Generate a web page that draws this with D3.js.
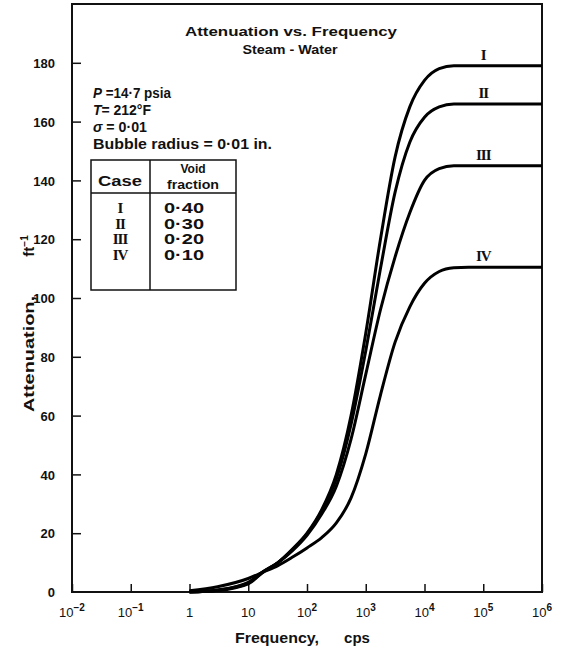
<!DOCTYPE html>
<html>
<head>
<meta charset="utf-8">
<script src="https://cdn.jsdelivr.net/npm/d3@7/dist/d3.min.js"></script>
<style>
  html, body { margin: 0; padding: 0; background: #fff; }
  svg { display: block; }
  text { font-family: "Liberation Sans", Arial, sans-serif; fill: #111; }
</style>
</head>
<body>
<svg id="chart" width="566" height="653"></svg>
<script>
// Frequency sample points (cps) shared by all four curves
const freq = [1, 3, 10, 18, 32, 56, 100, 178, 316, 562, 1000, 1780, 3160, 5620, 10000, 17800, 31600, 56200, 100000, 1000000];

// Attenuation (ft^-1) for each case
const caseI   = [0, 0.5, 2.8, 6.8, 10, 14.5, 20, 28, 40, 60, 88, 120, 148, 165, 174, 178, 179, 179, 179, 179];
const caseII  = [0, 0.6, 3.0, 6.9, 10, 14.3, 19.7, 27.5, 38.5, 57, 82, 110, 136, 153, 161.5, 165, 166, 166, 166, 166];
const caseIII = [0, 0.7, 3.3, 7.0, 10, 14, 19.3, 26.5, 36, 52, 74, 96, 114, 129, 140, 144, 145, 145, 145, 145];
const caseIV  = [0.4, 1.8, 4.6, 6.8, 9, 11.8, 15, 18.5, 23.5, 32, 47, 67, 85, 97, 105, 109, 110.3, 110.5, 110.5, 110.5];

const caseNames = ["I", "II", "III", "IV"];
const voidFractions = ["0·40", "0·30", "0·20", "0·10"];

const xTickExps = [-2, -1, 0, 1, 2, 3, 4, 5, 6];
const yTicks = [20, 40, 60, 80, 100, 120, 140, 160, 180];

const svg = d3.select("#chart");

const x = d3.scaleLog().domain([1e-2, 1e6]).range([72, 542]);
const y = d3.scaleLinear().domain([0, 200]).range([592, 4]);

// Plot frame
svg.append("rect")
  .attr("x", x.range()[0]).attr("y", y.range()[1])
  .attr("width", x.range()[1] - x.range()[0])
  .attr("height", y.range()[0] - y.range()[1])
  .attr("fill", "none").attr("stroke", "#111").attr("stroke-width", 2);

// Y ticks (inward) and labels
const yAxis = svg.append("g").attr("transform", `translate(${x.range()[0]},0)`)
  .call(d3.axisLeft(y).tickValues(yTicks).tickSizeInner(-9).tickSizeOuter(0).tickFormat(d3.format("d")));
yAxis.select(".domain").remove();
yAxis.selectAll(".tick line").attr("stroke", "#111").attr("stroke-width", 1.5);
yAxis.selectAll(".tick text")
  .attr("x", -17).attr("dy", "0.36em")
  .style("font-size", "13px").style("font-weight", "bold").style("font-family", "Liberation Sans, Arial, sans-serif").attr("fill", "#111");
svg.append("text").attr("x", x.range()[0] - 17).attr("y", y(0)).attr("dy", "0.36em")
  .attr("text-anchor", "end").style("font-size", "13px").style("font-weight", "bold").text("0");

// X ticks (inward) and labels
const xAxis = svg.append("g").attr("transform", `translate(0,${y.range()[0]})`)
  .call(d3.axisBottom(x).tickValues(xTickExps.map(e => Math.pow(10, e))).tickSizeInner(-8).tickSizeOuter(0).tickFormat(""));
xAxis.select(".domain").remove();
xAxis.selectAll(".tick line").attr("stroke", "#111").attr("stroke-width", 1.5);

const xl = svg.append("g").selectAll("text").data(xTickExps).join("text")
  .attr("x", e => x(Math.pow(10, e)))
  .attr("y", 617)
  .attr("text-anchor", "middle")
  .style("font-size", "13px");
xl.each(function(e) {
  const t = d3.select(this);
  if (e === 0) { t.text("1"); return; }
  t.append("tspan").text("10");
  if (e !== 1) {
    t.append("tspan").attr("dy", -6).style("font-size", "10px").style("font-weight", "bold")
      .text(e < 0 ? "\u2212" + (-e) : String(e));
  }
});

// Curves
const line = d3.line()
  .x(d => x(d[0]))
  .y(d => y(d[1]))
  .curve(d3.curveMonotoneX);

const series = [caseI, caseII, caseIII, caseIV];
svg.append("g").selectAll("path").data(series).join("path")
  .attr("d", s => line(freq.map((f, i) => [f, s[i]])))
  .attr("fill", "none").attr("stroke", "#000").attr("stroke-width", 3)
  .attr("stroke-linejoin", "round");

// Case labels above each plateau
svg.append("g").selectAll("text").data(series).join("text")
  .attr("x", x(1e5))
  .attr("y", s => y(s[s.length - 1]) - 6)
  .attr("text-anchor", "middle")
  .style("font-family", "Liberation Serif, serif").style("font-weight", "bold").style("font-size", "15px")
  .attr("letter-spacing", -1)
  .text((s, i) => caseNames[i]);

// Title
svg.append("text").attr("x", 291).attr("y", 36).attr("text-anchor", "middle")
  .attr("textLength", 212).attr("lengthAdjust", "spacingAndGlyphs")
  .style("font-size", "13px").style("font-weight", "bold").text("Attenuation vs. Frequency");
svg.append("text").attr("x", 290).attr("y", 54).attr("text-anchor", "middle")
  .attr("textLength", 95).attr("lengthAdjust", "spacingAndGlyphs")
  .style("font-size", "13px").style("font-weight", "bold").text("Steam - Water");

// Conditions
const cond = svg.append("g").style("font-size", "14px").style("font-weight", "bold");
const c1 = cond.append("text").attr("x", 93).attr("y", 98).attr("textLength", 78).attr("lengthAdjust", "spacingAndGlyphs");
c1.append("tspan").style("font-style", "italic").text("P");
c1.append("tspan").text(" =14·7 psia");
const c2 = cond.append("text").attr("x", 93).attr("y", 115).attr("textLength", 58).attr("lengthAdjust", "spacingAndGlyphs");
c2.append("tspan").style("font-style", "italic").text("T");
c2.append("tspan").text("= 212°F");
const c3 = cond.append("text").attr("x", 93).attr("y", 132).attr("textLength", 54).attr("lengthAdjust", "spacingAndGlyphs");
c3.append("tspan").style("font-style", "italic").text("σ");
c3.append("tspan").text(" = 0·01");
cond.append("text").attr("x", 93).attr("y", 149).attr("textLength", 179).attr("lengthAdjust", "spacingAndGlyphs")
  .text("Bubble radius = 0·01 in.");

// Case / void fraction table
const tb = svg.append("g");
tb.append("rect").attr("x", 91).attr("y", 160).attr("width", 145).attr("height", 130)
  .attr("fill", "none").attr("stroke", "#111").attr("stroke-width", 1.5);
tb.append("line").attr("x1", 91).attr("x2", 236).attr("y1", 193).attr("y2", 193)
  .attr("stroke", "#111").attr("stroke-width", 1.5);
tb.append("line").attr("x1", 150).attr("x2", 150).attr("y1", 160).attr("y2", 290)
  .attr("stroke", "#111").attr("stroke-width", 1.5);
tb.append("text").attr("x", 120).attr("y", 186).attr("text-anchor", "middle")
  .attr("textLength", 44).attr("lengthAdjust", "spacingAndGlyphs")
  .style("font-size", "14px").style("font-weight", "bold").text("Case");
tb.append("text").attr("x", 193).attr("y", 173).attr("text-anchor", "middle")
  .style("font-size", "12px").style("font-weight", "bold").text("Void");
tb.append("text").attr("x", 193).attr("y", 189).attr("text-anchor", "middle")
  .attr("textLength", 52).attr("lengthAdjust", "spacingAndGlyphs")
  .style("font-size", "12px").style("font-weight", "bold").text("fraction");
tb.selectAll(".cn").data(caseNames).join("text").attr("class", "cn")
  .attr("x", 120).attr("y", (d, i) => 213 + i * 15.5).attr("text-anchor", "middle")
  .style("font-family", "Liberation Serif, serif").style("font-weight", "bold").style("font-size", "15px")
  .attr("letter-spacing", -1).text(d => d);
tb.selectAll(".vf").data(voidFractions).join("text").attr("class", "vf")
  .attr("x", 184).attr("y", (d, i) => 213 + i * 15.5).attr("text-anchor", "middle")
  .attr("textLength", 40).attr("lengthAdjust", "spacingAndGlyphs")
  .style("font-size", "15px").style("font-weight", "bold").text(d => d);

// Axis titles
const yt = svg.append("g").attr("transform", "translate(34,0) rotate(-90)");
yt.append("text").attr("x", -354).attr("y", 0).attr("text-anchor", "middle")
  .attr("textLength", 116).attr("lengthAdjust", "spacingAndGlyphs")
  .style("font-size", "15px").style("font-weight", "bold").text("Attenuation,");
const ft = yt.append("text").attr("x", -246).attr("y", 0).attr("text-anchor", "middle")
  .style("font-size", "15px").style("font-weight", "bold");
ft.append("tspan").text("ft");
ft.append("tspan").attr("dy", -6).style("font-size", "10px").text("−1");

svg.append("text").attr("x", 277).attr("y", 643).attr("text-anchor", "middle")
  .attr("textLength", 84).attr("lengthAdjust", "spacingAndGlyphs")
  .style("font-size", "15px").style("font-weight", "bold").text("Frequency,");
svg.append("text").attr("x", 357).attr("y", 643).attr("text-anchor", "middle")
  .style("font-size", "15px").style("font-weight", "bold").text("cps");
</script>
</body>
</html>
